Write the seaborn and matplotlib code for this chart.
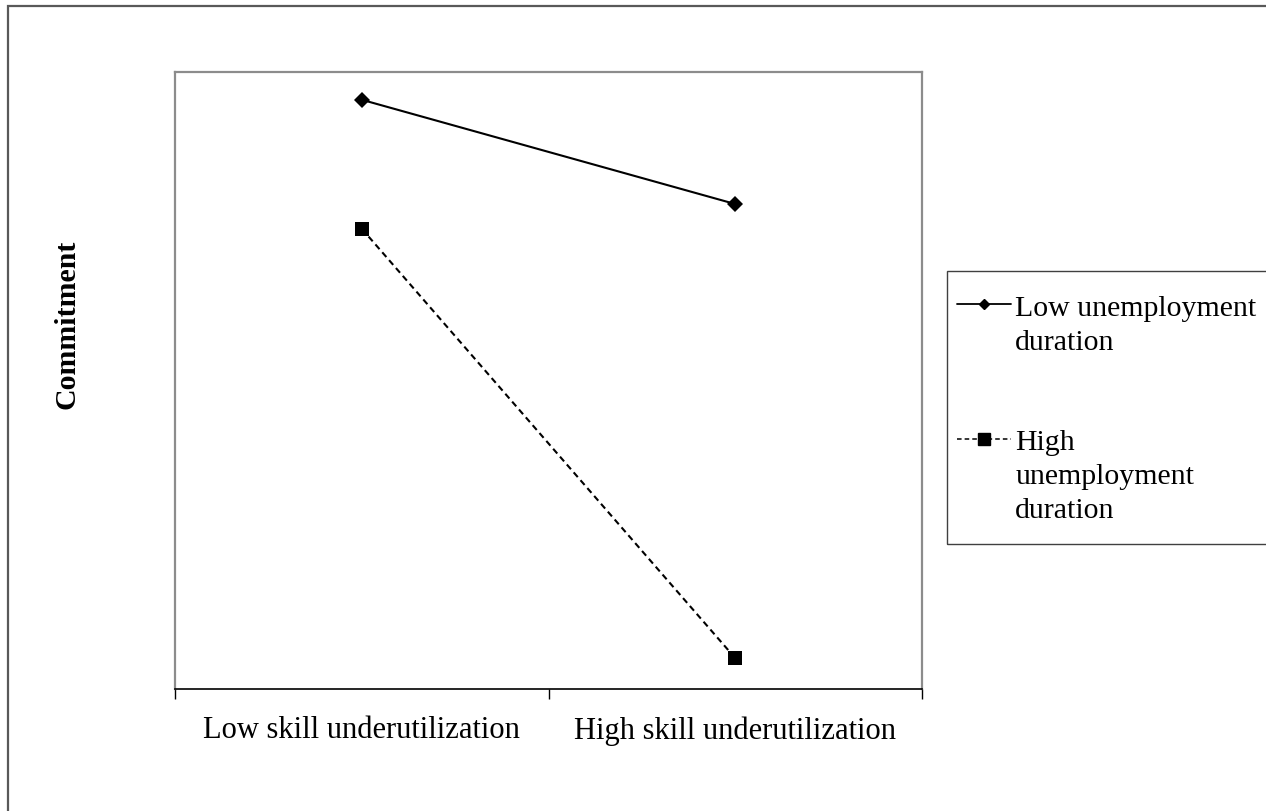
import pandas as pd
import matplotlib.pyplot as plt
import matplotlib.patches as mpatches
from matplotlib.lines import Line2D
import seaborn as sns

# Chart values (commitment on an arbitrary 0-10 scale)
conditions = ['Low skill underutilization', 'High skill underutilization']
low_duration = [9.55, 7.86]
high_duration = [7.46, 0.50]
series_names = ['Low unemployment duration', 'High unemployment duration']

sns.set_style('white')
plt.rcParams['font.family'] = ['Liberation Serif', 'DejaVu Serif']
plt.rcParams['text.color'] = 'black'
plt.rcParams['axes.labelcolor'] = 'black'
plt.rcParams['xtick.color'] = 'black'

df = pd.DataFrame({
    'condition': conditions * 2,
    'commitment': low_duration + high_duration,
    'group': [series_names[0]] * 2 + [series_names[1]] * 2,
})

fig = plt.figure(figsize=(12.66, 8.12), dpi=100)
ax = fig.add_axes([175 / 1266, 1 - 690 / 812, 747 / 1266, 617 / 812])

# Low unemployment duration: solid line, diamonds
sns.lineplot(data=df[df['group'] == series_names[0]], x='condition', y='commitment',
             ax=ax, color='black', linewidth=1.5, marker='D', markersize=8,
             markeredgewidth=0, legend=False)
# High unemployment duration: dashed line, squares
sns.lineplot(data=df[df['group'] == series_names[1]], x='condition', y='commitment',
             ax=ax, color='black', linewidth=1.5, marker='s', markersize=10,
             markeredgewidth=0, linestyle=(0, (3, 2)), legend=False)

ax.set_xlim(-0.5, 1.5)
ax.set_ylim(0, 10)

# category boundaries as ticks, labels centred between them
ax.set_xticks([-0.5, 0.5, 1.5])
ax.set_xticklabels([])
ax.set_xticks([0, 1], minor=True)
ax.set_xticklabels(conditions, minor=True, fontsize=22)
ax.tick_params(axis='x', which='major', direction='out', length=7, width=1,
               color='black', bottom=True)
ax.tick_params(axis='x', which='minor', length=0, pad=19, labelcolor='black')
ax.set_yticks([])

ax.set_xlabel('')
ax.set_ylabel('Commitment', fontsize=21.5, fontweight='bold', color='black')
ax.yaxis.set_label_coords(-0.127, 0.592)

for side in ['left', 'top', 'right']:
    ax.spines[side].set_color('#8c8c8c')
    ax.spines[side].set_linewidth(1.6)
ax.spines['bottom'].set_color('black')
ax.spines['bottom'].set_linewidth(1.2)

# legend: one row per text line, handles on the first line of each entry
blank = Line2D([], [], linestyle='none')
handles = [
    Line2D([], [], color='black', linewidth=1.3, marker='D', markersize=5.5),
    blank, blank, blank,
    Line2D([], [], color='black', linewidth=1.1, linestyle=(0, (3, 2)),
           marker='s', markersize=8),
    blank, blank,
]
labels = ['Low unemployment', 'duration', ' ', ' ', 'High', 'unemployment', 'duration']
leg = fig.legend(handles, labels, loc='upper left',
                 bbox_to_anchor=(957 / 1266, 1 - 295 / 812),
                 bbox_transform=fig.transFigure, borderaxespad=0,
                 fontsize=21.5, frameon=False, handlelength=1.8,
                 handletextpad=0.15, borderpad=0, labelspacing=0.225,
                 labelcolor='black')

# legend box (runs off the right edge of the picture)
fig.add_artist(mpatches.Rectangle((947 / 1266, 1 - 545 / 812), 0.5, 273 / 812,
                                  transform=fig.transFigure, fill=False,
                                  edgecolor='#404040', linewidth=1.0))

# outer frame around the whole graphic (runs off the right and bottom edge)
fig.add_artist(mpatches.Rectangle((8 / 1266, -0.2), 1.5, 0.2 + 1 - 7 / 812,
                                  transform=fig.transFigure, fill=False,
                                  edgecolor='#595959', linewidth=1.6))

fig.savefig('out.png', dpi=100)
